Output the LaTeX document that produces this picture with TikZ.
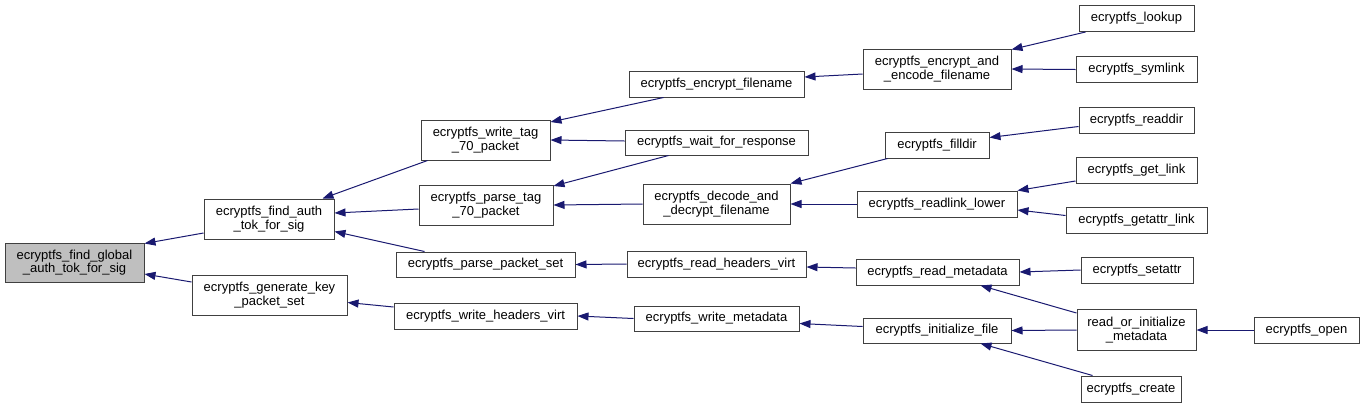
\documentclass[tikz,border=0pt]{standalone}
\usepackage{fontspec}
\setmainfont{Liberation Sans}
\usetikzlibrary{arrows.meta,calc}
\definecolor{edgeblue}{HTML}{191970}
\definecolor{boxline}{HTML}{404040}
\definecolor{grayfill}{HTML}{BFBFBF}
\tikzset{
  fnbox/.style={draw=boxline, line width=1pt, fill=white, inner sep=0pt, align=center,
    font=\fontsize{13}{13.5}\selectfont},
  rootbox/.style={fnbox, fill=grayfill},
  edge/.style={draw=edgeblue, line width=1pt, -{Triangle[length=11pt,width=8pt]}}
}
\newcommand\fnnode[7]{\node[#1, minimum width=#5pt, minimum height=#6pt] (#2) at (#3,#4) {#7};}
\begin{document}
\begin{tikzpicture}[x=1pt,y=-1pt]
\useasboundingbox (0,0) rectangle (1364,408);
% rank 0
\fnnode{rootbox}{gray}{74.5}{262.5}{139}{39}{ecryptfs\_find\_global\\\_auth\_tok\_for\_sig}
% rank 1
\fnnode{fnbox}{find_auth}{269}{219}{130}{40}{ecryptfs\_find\_auth\\\_tok\_for\_sig}
\fnnode{fnbox}{gen_key}{269.5}{295}{155}{40}{ecryptfs\_generate\_key\\\_packet\_set}
% rank 2
\fnnode{fnbox}{write_tag}{485.5}{140}{129}{40}{ecryptfs\_write\_tag\\\_70\_packet}
\fnnode{fnbox}{parse_tag}{486}{205}{134}{40}{ecryptfs\_parse\_tag\\\_70\_packet}
\fnnode{fnbox}{parse_set}{485.5}{264.5}{179}{25}{ecryptfs\_parse\_packet\_set}
\fnnode{fnbox}{write_hdr}{485.5}{316}{183}{26}{ecryptfs\_write\_headers\_virt}
% rank 3
\fnnode{fnbox}{enc_fn}{716.5}{84}{175}{26}{ecryptfs\_encrypt\_filename}
\fnnode{fnbox}{wait}{716.5}{142.5}{183}{25}{ecryptfs\_wait\_for\_response}
\fnnode{fnbox}{decode}{716.5}{204}{147}{40}{ecryptfs\_decode\_and\\\_decrypt\_filename}
\fnnode{fnbox}{read_hdr}{716.5}{264}{179}{26}{ecryptfs\_read\_headers\_virt}
\fnnode{fnbox}{write_meta}{716.5}{318.5}{165}{25}{ecryptfs\_write\_metadata}
% rank 4
\fnnode{fnbox}{enc_enc}{937}{69}{148}{40}{ecryptfs\_encrypt\_and\\\_encode\_filename}
\fnnode{fnbox}{filldir}{937}{145}{104}{26}{ecryptfs\_filldir}
\fnnode{fnbox}{readlink}{937}{204}{160}{26}{ecryptfs\_readlink\_lower}
\fnnode{fnbox}{read_meta}{937.5}{272}{163}{26}{ecryptfs\_read\_metadata}
\fnnode{fnbox}{init_file}{937}{330.5}{148}{25}{ecryptfs\_initialize\_file}
% rank 5
\fnnode{fnbox}{lookup}{1136.5}{18.5}{115}{26}{ecryptfs\_lookup}
\fnnode{fnbox}{symlink}{1136.5}{69.5}{121}{26}{ecryptfs\_symlink}
\fnnode{fnbox}{readdir}{1136.5}{120}{115}{26}{ecryptfs\_readdir}
\fnnode{fnbox}{get_link}{1136.5}{170}{121}{26}{ecryptfs\_get\_link}
\fnnode{fnbox}{getattr}{1136.5}{220.5}{141}{26}{ecryptfs\_getattr\_link}
\fnnode{fnbox}{setattr}{1137}{270}{112}{26}{ecryptfs\_setattr}
\fnnode{fnbox}{rom}{1136.5}{330}{119}{41}{read\_or\_initialize\\\_metadata}
\fnnode{fnbox}{create}{1131}{389}{100}{26}{ecryptfs\_create}
% rank 6
\fnnode{fnbox}{open}{1306.5}{330}{105}{26}{ecryptfs\_open}
% edges
\draw[edge] ($(find_auth.west)+(0,14)$) -- ($(gray.north east)+(0,1)$);
\draw[edge] ($(gen_key.west)+(0,-13)$) -- ($(gray.east)+(0,11.5)$);
\draw[edge] ($(write_tag.south west)+(7,0)$) -- ($(find_auth.north east)+(-12,0)$);
\draw[edge] ($(parse_tag.west)+(0,4)$) -- ($(find_auth.east)+(0,-6)$);
\draw[edge] ($(parse_set.north west)+(29,0)$) -- ($(find_auth.east)+(0,12.5)$);
\draw[edge] ($(write_hdr.west)+(0,-9)$) -- ($(gen_key.east)+(0,7.5)$);
\draw[edge] ($(enc_fn.south west)+(35,0)$) -- ($(write_tag.north east)+(0,2.5)$);
\draw[edge] ($(wait.west)+(0,-1.5)$) -- (write_tag.east);
\draw[edge] ($(wait.south west)+(44,0)$) -- ($(parse_tag.north east)+(0,1.5)$);
\draw[edge] (decode.west) -- (parse_tag.east);
\draw[edge] (read_hdr.west) -- (parse_set.east);
\draw[edge] (write_meta.west) -- (write_hdr.east);
\draw[edge] ($(enc_enc.west)+(0,5)$) -- ($(enc_fn.east)+(0,-7)$);
\draw[edge] ($(filldir.south west)+(3,0)$) -- (decode.north east);
\draw[edge] (readlink.west) -- (decode.east);
\draw[edge] ($(read_meta.west)+(0,-4)$) -- ($(read_hdr.east)+(0,3)$);
\draw[edge] ($(init_file.west)+(0,-4)$) -- ($(write_meta.east)+(0,5)$);
\draw[edge] ($(lookup.south west)+(7,0)$) -- ($(enc_enc.north east)+(0,1)$);
\draw[edge] (symlink.west) -- (enc_enc.east);
\draw[edge] ($(readdir.west)+(0,6.5)$) -- ($(filldir.east)+(0,-7.5)$);
\draw[edge] ($(get_link.west)+(0,11)$) -- (readlink.north east);
\draw[edge] ($(getattr.west)+(0,-5)$) -- ($(readlink.east)+(0,6)$);
\draw[edge] (setattr.west) -- (read_meta.east);
\draw[edge] ($(rom.north west)+(0,4)$) -- ($(read_meta.south east)+(-39,0)$);
\draw[edge] (rom.west) -- (init_file.east);
\draw[edge] ($(create.north west)+(12,0)$) -- ($(init_file.south east)+(-31,0)$);
\draw[edge] (open.west) -- (rom.east);
\end{tikzpicture}
\end{document}
